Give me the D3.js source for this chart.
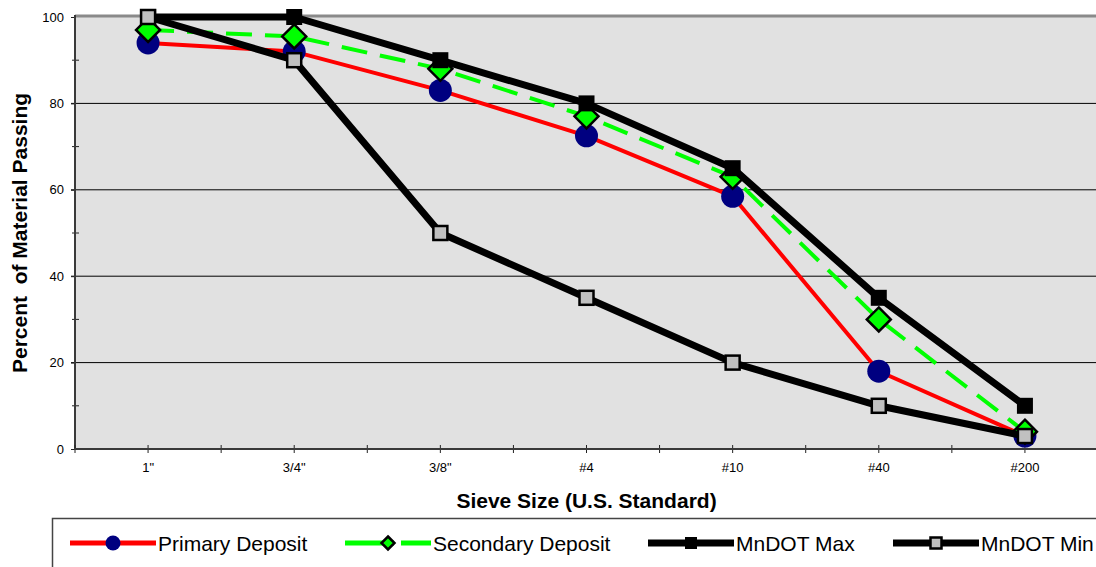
<!DOCTYPE html>
<html>
<head>
<meta charset="utf-8">
<script src="https://cdn.jsdelivr.net/npm/d3@7"></script>
<style>
  body { margin: 0; background: #fff; }
  svg { display: block; font-family: "Liberation Sans", Arial, sans-serif; }
</style>
</head>
<body>
<svg width="1096" height="567"></svg>
<script>
// sieve sizes (x categories)
var sieves = ['1"', '3/4"', '3/8"', '#4', '#10', '#40', '#200'];
// percent passing for each series
var primary = [94, 92, 83, 72.5, 58.5, 18, 3];
var secondary = [97, 95.5, 88, 77, 63, 30, 4];
var mndotMax = [100, 100, 90, 80, 65, 35, 10];
var mndotMin = [100, 90, 50, 35, 20, 10, 3];
var yMajor = [0, 20, 40, 60, 80, 100];
var yMinor = [10, 30, 50, 70, 90];

var svg = d3.select("svg");

var plotL = 75, plotR = 1098, plotT = 17, plotB = 449;

var x = d3.scaleBand()
    .domain(sieves)
    .range([plotL, plotR]);
var xc = function(c) { return x(c) + x.bandwidth() / 2; };

var y = d3.scaleLinear()
    .domain([0, 100])
    .range([plotB, plotT]);

// plot background
svg.append("rect")
    .attr("x", plotL)
    .attr("y", plotT)
    .attr("width", plotR - plotL)
    .attr("height", plotB - plotT)
    .attr("fill", "#e1e1e1");

// gridlines
svg.append("g")
  .selectAll("line")
  .data([20, 40, 60, 80])
  .enter().append("line")
    .attr("x1", plotL - 4)
    .attr("x2", plotR)
    .attr("y1", function(d) { return y(d); })
    .attr("y2", function(d) { return y(d); })
    .attr("stroke", "#000")
    .attr("stroke-width", 1);

// top border
svg.append("line")
    .attr("x1", plotL).attr("x2", plotR)
    .attr("y1", plotT - 1).attr("y2", plotT - 1)
    .attr("stroke", "#8a8a8a")
    .attr("stroke-width", 3);

// y axis
var yAxis = d3.axisLeft(y)
    .tickValues(yMajor)
    .tickSize(4)
    .tickPadding(7);
var gy = svg.append("g")
    .attr("transform", "translate(" + plotL + ",0)")
    .call(yAxis);
gy.select(".domain").remove();
gy.selectAll("text").attr("font-size", 13).attr("fill", "#000")
    .attr("font-family", "Liberation Sans, Arial, sans-serif");
gy.selectAll(".tick line").attr("stroke", "#222");

svg.append("g")
  .selectAll("line")
  .data(yMinor)
  .enter().append("line")
    .attr("x1", plotL - 3)
    .attr("x2", plotL + 4)
    .attr("y1", function(d) { return y(d); })
    .attr("y2", function(d) { return y(d); })
    .attr("stroke", "#222");

svg.append("line")
    .attr("x1", plotL).attr("x2", plotL)
    .attr("y1", plotT - 2).attr("y2", plotB + 1)
    .attr("stroke", "#3a3a3a")
    .attr("stroke-width", 2);

// x axis
var xAxis = d3.axisBottom(x)
    .tickSize(0)
    .tickPadding(14);
var gx = svg.append("g")
    .attr("transform", "translate(0," + plotB + ")")
    .call(xAxis);
gx.select(".domain").remove();
gx.selectAll("text").attr("font-size", 13).attr("fill", "#000")
    .attr("font-family", "Liberation Sans, Arial, sans-serif");

var xTicks = [];
sieves.forEach(function(c) { xTicks.push(x(c)); xTicks.push(xc(c)); });
svg.append("g")
  .selectAll("line")
  .data(xTicks)
  .enter().append("line")
    .attr("x1", function(d) { return d; })
    .attr("x2", function(d) { return d; })
    .attr("y1", plotB - 4)
    .attr("y2", plotB + 4)
    .attr("stroke", "#222");

svg.append("line")
    .attr("x1", plotL - 1).attr("x2", plotR)
    .attr("y1", plotB).attr("y2", plotB)
    .attr("stroke", "#3a3a3a")
    .attr("stroke-width", 2);

// axis titles
svg.append("text")
    .attr("x", (plotL + plotR) / 2)
    .attr("y", 508)
    .attr("text-anchor", "middle")
    .attr("font-size", 21)
    .attr("font-weight", "bold")
    .text("Sieve Size (U.S. Standard)");

svg.append("text")
    .attr("transform", "translate(27," + ((plotT + plotB) / 2) + ") rotate(-90)")
    .attr("text-anchor", "middle")
    .attr("font-size", 21)
    .attr("font-weight", "bold")
    .style("white-space", "pre")
    .text("Percent  of Material Passing");

// series
var line = d3.line()
    .x(function(d, i) { return xc(sieves[i]); })
    .y(function(d) { return y(d); });

function marker(g, kind, size) {
  if (kind === "circle") {
    g.append("circle").attr("r", size).attr("fill", "#000080");
  } else if (kind === "diamond") {
    g.append("path")
      .attr("d", "M0," + (-size) + "L" + size + ",0L0," + size + "L" + (-size) + ",0Z")
      .attr("fill", "#00ff00").attr("stroke", "#000").attr("stroke-width", 2.5);
  } else if (kind === "black") {
    g.append("rect").attr("x", -size).attr("y", -size)
      .attr("width", size * 2).attr("height", size * 2).attr("fill", "#000");
  } else {
    g.append("rect").attr("x", -size).attr("y", -size)
      .attr("width", size * 2).attr("height", size * 2)
      .attr("fill", "#c0c0c0").attr("stroke", "#000").attr("stroke-width", 2.5);
  }
}

var series = [
  { name: "Primary Deposit", values: primary, color: "#ff0000", width: 4, dash: null, kind: "circle", size: 11.5, lsize: 7.5 },
  { name: "Secondary Deposit", values: secondary, color: "#00ff00", width: 4, dash: "26,13", kind: "diamond", size: 12, lsize: 6.5 },
  { name: "MnDOT Max", values: mndotMax, color: "#000", width: 7, dash: null, kind: "black", size: 8, lsize: 6 },
  { name: "MnDOT Min", values: mndotMin, color: "#000", width: 7, dash: null, kind: "gray", size: 7, lsize: 5.5 }
];

series.forEach(function(s) {
  svg.append("path")
    .datum(s.values)
    .attr("d", line)
    .attr("fill", "none")
    .attr("stroke", s.color)
    .attr("stroke-width", s.width)
    .attr("stroke-dasharray", s.dash)
    .attr("stroke-linejoin", "round");
  s.values.forEach(function(v, i) {
    var g = svg.append("g")
      .attr("transform", "translate(" + xc(sieves[i]) + "," + y(v) + ")");
    marker(g, s.kind, s.size);
  });
});

// legend
svg.append("rect")
    .attr("x", 52.5)
    .attr("y", 518.5)
    .attr("width", 1100)
    .attr("height", 100)
    .attr("fill", "#fff")
    .attr("stroke", "#444")
    .attr("stroke-width", 1.5);

var legendX = [70, 345, 648, 893];
var ly = 543;
series.forEach(function(s, i) {
  var x0 = legendX[i], x1 = x0 + 86;
  svg.append("line")
    .attr("x1", x0).attr("x2", x1)
    .attr("y1", ly).attr("y2", ly)
    .attr("stroke", s.color)
    .attr("stroke-width", s.width === 7 ? 7 : 5)
    .attr("stroke-dasharray", s.dash ? "49,7" : null);
  var g = svg.append("g").attr("transform", "translate(" + ((x0 + x1) / 2) + "," + ly + ")");
  marker(g, s.kind, s.lsize);
  svg.append("text")
    .attr("x", x1 + 2)
    .attr("y", 551)
    .attr("font-size", 21)
    .text(s.name);
});
</script>
</body>
</html>
